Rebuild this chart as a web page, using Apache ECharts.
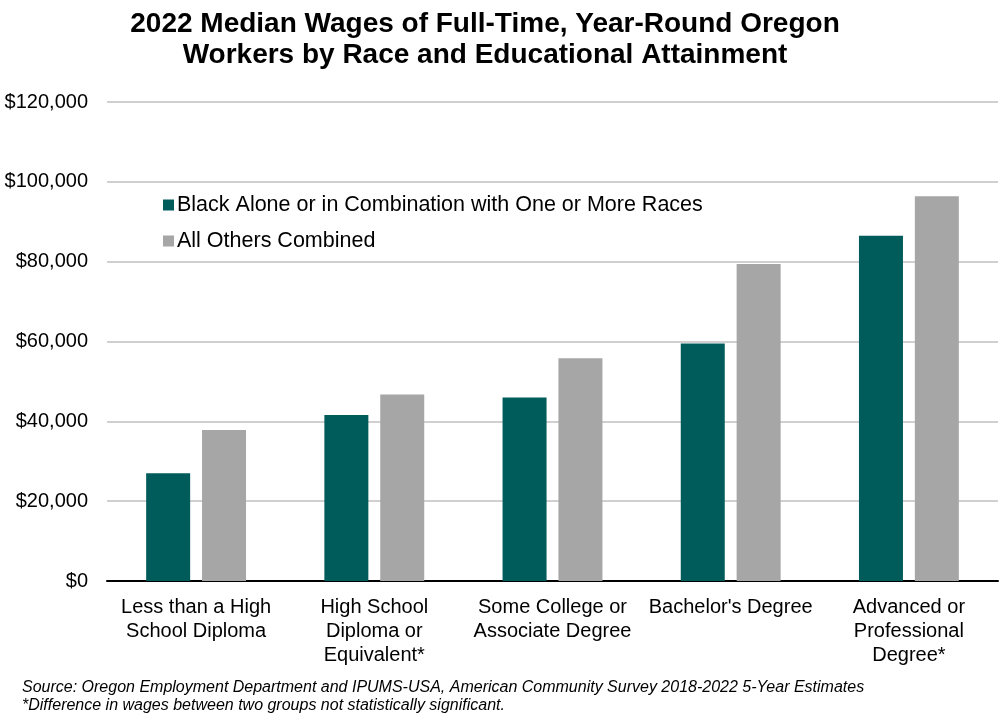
<!DOCTYPE html>
<html>
<head>
<meta charset="utf-8">
<script src="https://cdn.jsdelivr.net/npm/echarts@6/dist/echarts.min.js"></script>
<style>
html,body{margin:0;padding:0;background:#fff;}
#c{width:1000px;height:724px;}
</style>
</head>
<body>
<div id="c"></div>
<script>
const categories = [
  "Less than a High\nSchool Diploma",
  "High School\nDiploma or\nEquivalent*",
  "Some College or\nAssociate Degree",
  "Bachelor's Degree",
  "Advanced or\nProfessional\nDegree*"
];
const blackWages = [27000, 41600, 46000, 59500, 86500];
const othersWages = [37800, 46700, 55800, 79400, 96400];
const seriesNames = ["Black Alone or in Combination with One or More Races", "All Others Combined"];
const yTicks = [0, 20000, 40000, 60000, 80000, 100000, 120000];

const chart = echarts.init(document.getElementById('c'));
const font = "'Liberation Sans', Arial, sans-serif";
chart.setOption({
  animation: false,
  textStyle: { fontFamily: font },
  title: {
    text: "2022 Median Wages of Full-Time, Year-Round Oregon\nWorkers by Race and Educational Attainment",
    left: 480, top: 4, textAlign: 'center',
    textStyle: { fontFamily: font, fontSize: 28, fontWeight: 'bold', color: '#000', lineHeight: 31 }
  },
  legend: {
    orient: 'vertical', left: 158, top: 189, itemGap: 14,
    itemWidth: 11, itemHeight: 11, icon: 'rect',
    textStyle: { fontFamily: font, fontSize: 21.5, color: '#000', padding: [0,0,0,-2] },
    data: seriesNames
  },
  grid: { left: 107, right: 2, top: 102, bottom: 143, containLabel: false },
  xAxis: {
    type: 'category', data: categories,
    axisLine: { lineStyle: { color: '#000', width: 2 } },
    axisTick: { show: false },
    axisLabel: { fontFamily: font, fontSize: 20, color: '#000', lineHeight: 24, margin: 14, interval: 0 }
  },
  yAxis: {
    type: 'value', min: yTicks[0], max: yTicks[yTicks.length-1], interval: 20000,
    axisLine: { show: false }, axisTick: { show: false },
    splitLine: { lineStyle: { color: '#d0d0d0', width: 2 } },
    axisLabel: { fontFamily: font, fontSize: 20, color: '#000', margin: 19,
      formatter: v => '$' + v.toLocaleString('en-US') }
  },
  series: [
    { name: seriesNames[0], type: 'bar', data: blackWages, barWidth: 44, barGap: '27%',
      itemStyle: { color: '#005b5b' } },
    { name: seriesNames[1], type: 'bar', data: othersWages, barWidth: 44,
      itemStyle: { color: '#a6a6a6' } }
  ],
  graphic: [
    { type: 'text', left: 22, top: 679, style: { text: "Source: Oregon Employment Department and IPUMS-USA, American Community Survey 2018-2022 5-Year Estimates\n*Difference in wages between two groups not statistically significant.", font: "italic 16px 'Liberation Sans', Arial, sans-serif", fill: '#000', lineHeight: 18 } }
  ]
});
</script>
</body>
</html>
